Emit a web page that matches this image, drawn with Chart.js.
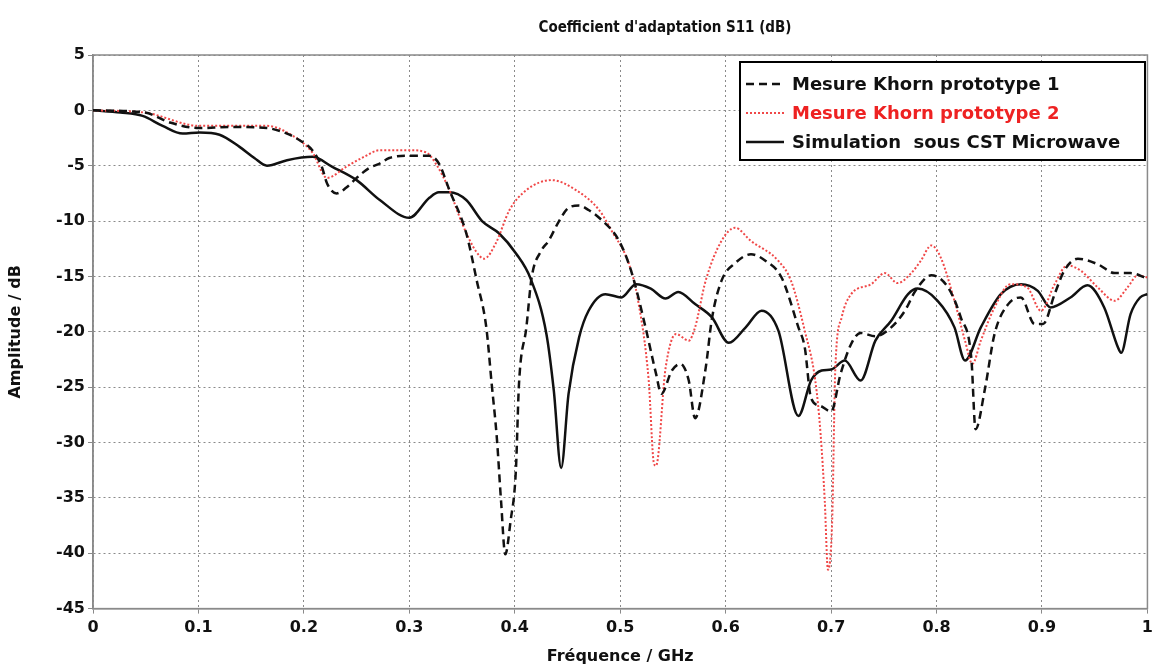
<!DOCTYPE html>
<html><head><meta charset="utf-8">
<script src="https://cdn.jsdelivr.net/npm/chart.js@4/dist/chart.umd.min.js"></script>
<style>html,body{margin:0;padding:0;background:#fff}#wrap{width:1158px;height:668px}</style>
</head><body><div id="wrap"><canvas id="c" width="1158" height="668"></canvas></div>
<script>
const chartTitle = "Coefficient d'adaptation S11 (dB)";
const xAxisTitle = "Fréquence / GHz";
const yAxisTitle = "Amplitude / dB";
const seriesNames = ["Mesure Khorn prototype 1", "Mesure Khorn prototype 2", "Simulation  sous CST Microwave"];
const xTickLabels = ["0","0.1","0.2","0.3","0.4","0.5","0.6","0.7","0.8","0.9","1"];

const freq1 = [0,0.049,0.073,0.101,0.130,0.165,0.184,0.196,0.208,0.217,0.222,0.231,0.240,0.250,0.262,0.272,0.281,0.300,0.319,0.328,0.338,0.354,0.364,0.373,0.378,0.383,0.387,0.391,0.396,0.401,0.404,0.411,0.416,0.425,0.432,0.442,0.451,0.461,0.470,0.480,0.499,0.511,0.524,0.534,0.539,0.549,0.557,0.565,0.571,0.581,0.587,0.596,0.609,0.624,0.638,0.653,0.669,0.675,0.681,0.690,0.700,0.709,0.719,0.728,0.742,0.757,0.770,0.780,0.795,0.811,0.823,0.833,0.837,0.846,0.855,0.868,0.880,0.893,0.901,0.912,0.921,0.934,0.953,0.969,0.984,1.0];
const proto1 = [0,-0.2,-1.1,-1.6,-1.5,-1.6,-2.1,-2.7,-3.6,-5.1,-6.6,-7.5,-7.0,-6.1,-5.2,-4.8,-4.3,-4.1,-4.1,-4.8,-7.2,-11.1,-15.4,-19.6,-24.6,-29.6,-35.3,-40.1,-37.1,-32.6,-24.7,-19.6,-15.1,-12.7,-11.8,-10.0,-8.8,-8.6,-9.0,-9.7,-11.8,-14.7,-19.6,-23.8,-25.6,-23.5,-22.9,-24.4,-27.8,-23.3,-18.8,-15.4,-13.8,-13.0,-13.6,-15.1,-19.6,-21.4,-26.0,-26.7,-27.2,-23.8,-21.1,-20.1,-20.4,-19.6,-18.1,-16.3,-14.9,-16.0,-18.7,-22.4,-28.8,-25.1,-20.2,-17.5,-16.9,-19.3,-19.3,-16.6,-14.5,-13.4,-13.9,-14.7,-14.7,-15.2];

const freq2 = [0,0.049,0.101,0.165,0.186,0.208,0.222,0.240,0.257,0.272,0.300,0.316,0.325,0.338,0.350,0.363,0.371,0.382,0.395,0.411,0.435,0.458,0.480,0.492,0.508,0.517,0.527,0.532,0.534,0.543,0.553,0.565,0.571,0.581,0.596,0.609,0.624,0.650,0.662,0.675,0.685,0.690,0.694,0.697,0.701,0.704,0.710,0.719,0.738,0.751,0.763,0.776,0.785,0.795,0.804,0.817,0.827,0.834,0.842,0.855,0.870,0.886,0.899,0.912,0.924,0.937,0.953,0.969,0.981,0.991,1.0];
const proto2 = [0,-0.2,-1.4,-1.4,-2.1,-3.8,-6.1,-5.1,-4.2,-3.6,-3.6,-3.8,-4.8,-7.2,-10.2,-12.7,-13.4,-12.0,-9.0,-7.2,-6.3,-7.2,-9.0,-10.9,-13.8,-17.2,-24.4,-31.9,-32.1,-23.3,-20.2,-20.8,-19.6,-15.4,-11.8,-10.6,-11.8,-13.6,-15.4,-19.9,-24.4,-29.2,-35.3,-41.5,-37.1,-23.3,-18.7,-16.6,-15.7,-14.7,-15.6,-14.7,-13.6,-12.2,-13.3,-17.2,-20.8,-22.9,-20.8,-17.8,-15.7,-16.0,-18.1,-15.7,-14.0,-14.5,-16.0,-17.2,-16.0,-14.9,-15.1];

const freq3 = [0,0.026,0.047,0.066,0.085,0.101,0.120,0.139,0.153,0.165,0.184,0.208,0.227,0.250,0.272,0.300,0.319,0.328,0.338,0.354,0.369,0.385,0.401,0.415,0.430,0.437,0.444,0.451,0.461,0.470,0.486,0.501,0.515,0.529,0.543,0.555,0.571,0.587,0.603,0.619,0.634,0.650,0.669,0.681,0.691,0.700,0.713,0.728,0.742,0.757,0.773,0.782,0.801,0.817,0.827,0.842,0.861,0.880,0.896,0.908,0.927,0.943,0.959,0.972,0.975,0.984,0.993,1.0];
const simul = [0,-0.2,-0.5,-1.4,-2.1,-2.0,-2.2,-3.3,-4.3,-5.0,-4.5,-4.2,-5.1,-6.3,-8.1,-9.7,-7.9,-7.4,-7.4,-8.1,-10.0,-11.1,-12.9,-15.2,-20.2,-25.3,-32.3,-25.6,-20.5,-18.1,-16.6,-16.9,-15.7,-16.1,-17.0,-16.4,-17.5,-18.7,-21.0,-19.6,-18.1,-19.9,-27.6,-24.4,-23.5,-23.4,-22.6,-24.4,-20.8,-19.0,-16.6,-16.1,-17.2,-19.6,-22.6,-19.6,-16.6,-15.7,-16.3,-17.8,-16.9,-15.8,-17.8,-21.4,-21.9,-18.4,-16.9,-16.6];

const pts = (xs, ys) => xs.map((x, i) => ({x: x, y: ys[i]}));
const FONT = "'DejaVu Sans', Verdana, sans-serif";
const CFONT = "'DejaVu Sans Condensed', 'Liberation Sans Narrow', 'DejaVu Sans', sans-serif";

const frameAndLegend = {
  id: 'frameAndLegend',
  beforeDatasetsDraw(chart) {
    const {ctx, chartArea: a} = chart;
    ctx.save();
    ctx.strokeStyle = '#8a8a8a';
    ctx.lineWidth = 1.5;
    ctx.strokeRect(a.left, a.top, a.right - a.left, a.bottom - a.top);
    ctx.restore();
  },
  afterDatasetsDraw(chart) {
    const {ctx} = chart;
    ctx.save();
    // chart title
    ctx.fillStyle = '#111';
    ctx.font = "bold 15px " + CFONT;
    ctx.textAlign = 'center';
    ctx.textBaseline = 'middle';
    ctx.fillText(chartTitle, 665, 28);
    // legend
    const x0 = 740, y0 = 62, w = 405, h = 98;
    ctx.textAlign = 'left';
    ctx.fillStyle = '#fff';
    ctx.fillRect(x0, y0, w, h);
    ctx.strokeStyle = '#000';
    ctx.lineWidth = 2;
    ctx.strokeRect(x0, y0, w, h);
    ctx.font = "bold 18px " + FONT;
    chart.data.datasets.forEach((ds, i) => {
      const yy = y0 + 22 + i * 29;
      ctx.strokeStyle = ds.borderColor;
      ctx.lineWidth = ds.borderWidth;
      ctx.setLineDash(ds.borderDash || []);
      ctx.beginPath();
      ctx.moveTo(x0 + 6, yy);
      ctx.lineTo(x0 + 44, yy);
      ctx.stroke();
      ctx.setLineDash([]);
      ctx.fillStyle = i === 1 ? '#ee2222' : '#111';
      ctx.fillText(ds.label, x0 + 52, yy + 1);
    });
    ctx.restore();
  }
};

new Chart(document.getElementById('c'), {
  type: 'line',
  data: {
    datasets: [
      {label: seriesNames[0], data: pts(freq1, proto1), borderColor: '#111', borderWidth: 2.5, borderDash: [8, 5], pointRadius: 0, fill: false, cubicInterpolationMode: 'monotone'},
      {label: seriesNames[1], data: pts(freq2, proto2), borderColor: '#f04848', borderWidth: 2, borderDash: [2, 2], pointRadius: 0, fill: false, cubicInterpolationMode: 'monotone'},
      {label: seriesNames[2], data: pts(freq3, simul), borderColor: '#111', borderWidth: 2.5, pointRadius: 0, fill: false, cubicInterpolationMode: 'monotone'}
    ]
  },
  options: {
    responsive: false,
    animation: false,
    devicePixelRatio: 1,
    layout: {padding: {left: 0, right: 8, top: 55, bottom: 2}},
    plugins: {
      legend: {display: false},
      tooltip: {enabled: false},
      title: {display: false}
    },
    scales: {
      x: {
        type: 'linear', min: 0, max: 1,
        afterBuildTicks(s) { s.ticks = xTickLabels.map((t, i) => ({value: i / 10})); },
        ticks: {callback: (v, i) => xTickLabels[i], color: '#111', font: {family: FONT, size: 16, weight: 'bold'}, padding: 5, maxRotation: 0, autoSkip: false},
        grid: {color: '#8a8a8a', lineWidth: 1, tickLength: 5},
        border: {display: true, color: '#8a8a8a', width: 1.5, dash: [2, 3]},
        title: {display: true, text: xAxisTitle, color: '#111', font: {family: FONT, size: 16, weight: 'bold'}, padding: {top: 4, bottom: 0}}
      },
      y: {
        min: -45, max: 5,
        ticks: {stepSize: 5, color: '#111', font: {family: FONT, size: 16, weight: 'bold'}, padding: 3},
        grid: {color: '#8a8a8a', lineWidth: 1, tickLength: 5},
        border: {display: true, color: '#8a8a8a', width: 1.5, dash: [2, 3]},
        title: {display: true, text: yAxisTitle, color: '#111', font: {family: FONT, size: 16, weight: 'bold'}, padding: {top: 6, bottom: 4}},
        afterFit(s) { s.width = 93; }
      }
    }
  },
  plugins: [frameAndLegend]
});
</script>
</body></html>
